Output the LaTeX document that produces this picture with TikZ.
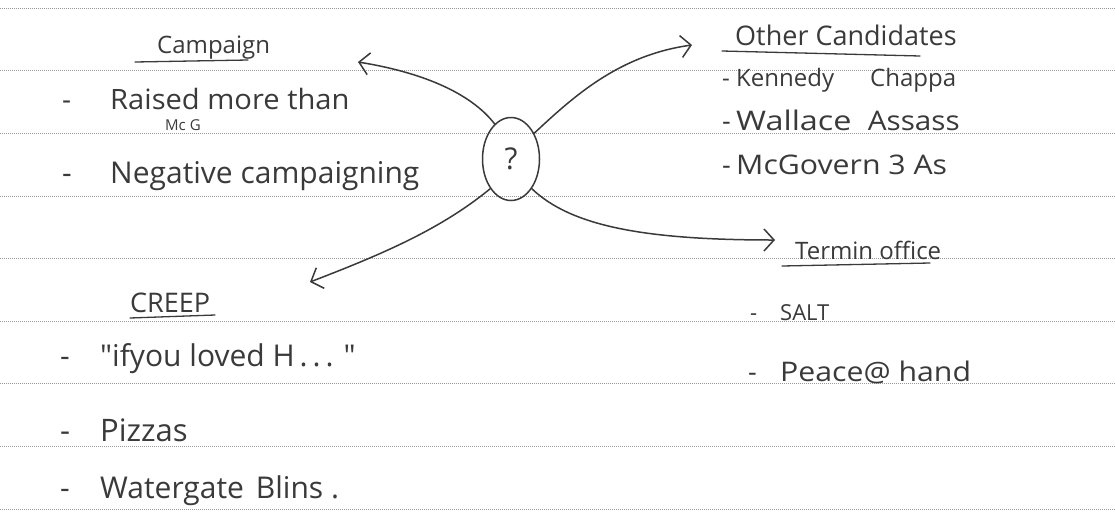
\documentclass[tikz,border=0pt]{standalone}
\usepackage{fontspec}
\setmainfont{Open Sans}
\newfontfamily\plainq[Ligatures=ResetAll]{Open Sans}
\usepackage{graphicx}
\usetikzlibrary{shapes.geometric,arrows.meta}
\newcommand\fs[1]{\fontsize{#1}{#1}\selectfont}
\newcommand\hs[2]{\scalebox{#1}[1]{#2}}
\definecolor{ink}{HTML}{3A3A3A}
\definecolor{rule}{HTML}{9A9A9A}
\tikzset{
  ruling/.style={rule, line width=0.7pt, dash pattern=on 0.7pt off 1.3pt},
  txt/.style={anchor=base west, inner sep=0pt, text=ink},
  uline/.style={ink, line width=1.3pt, line cap=round},
  branch/.style={ink, line width=1.5pt, line cap=round, -{Straight Barb[length=10pt,width=22pt,line width=1.5pt]}},
  hub/.style={draw=ink, line width=1.5pt, ellipse, minimum width=57pt, minimum height=83pt, inner sep=0pt}
}
\begin{document}
\begin{tikzpicture}[x=1pt,y=-1pt]
\useasboundingbox (0,0) rectangle (1115,512);
\fill[white] (0,0) rectangle (1115,512);
% ruled lines
\foreach \yy in {8,70,133,196,258,321,383,446,509}
  \draw[ruling] (0,\yy) -- (1115,\yy);
% hub
\node[hub] (q) at (511,159) {\fs{30}\color{ink}?};
% Campaign
\node[txt] (camp) at (157,53) {\fs{24}Campaign};
\coordinate (campU1) at (135,62);
\coordinate (campU2) at (248,60);
\draw[uline] (campU1) -- (campU2);
\node[txt] (c1) at (62,109) {\fs{28}\makebox[48pt][l]{-}\hs{1.04}{Raised more than}};
\node[txt] (c1b) at (165,130) {\fs{15}Mc G};
\node[txt] (c2) at (62,183) {\fs{30}\makebox[48pt][l]{-}Negative campaigning};
% Other Candidates
\node[txt] (oc) at (735,45) {\fs{27}Other Candidates};
\coordinate (ocU1) at (722,51);
\coordinate (ocU2) at (920,56);
\draw[uline] (ocU1) -- (ocU2);
\node[txt] (o1) at (722,86) {\fs{24}\makebox[14pt][l]{-}Kennedy\hspace{1.5em}Chappa};
\node[txt] (o2) at (722,130) {\fs{27}\makebox[14pt][l]{-}\hs{1.2}{Wallace}\hspace{0.6em}\hs{1.1}{Assass}};
\node[txt] (o3) at (722,174) {\fs{27}\makebox[14pt][l]{-}\hs{1.12}{McGovern 3 As}};
% Term in office
\node[txt] (tio) at (795,259) {\fs{24}Termin office};
\coordinate (tU1) at (782,266);
\coordinate (tU2) at (930,263);
\draw[uline] (tU1) -- (tU2);
\node[txt] (t1) at (750,320) {\fs{22}\makebox[30pt][l]{-}SALT};
\node[txt] (t2) at (748,381) {\fs{27}\makebox[32pt][l]{-}\hs{1.12}{Peace@ hand}};
% CREEP
\node[txt] (cr) at (130,312) {\fs{27}CREEP};
\coordinate (crU1) at (130,318);
\coordinate (crU2) at (215,315);
\draw[uline] (crU1) -- (crU2);
\node[txt] (r1) at (60,366) {\fs{30}\makebox[40pt][l]{-}{\plainq"}ifyou loved H\,.\,.\,.\,\,{\plainq"}};
\node[txt] (r2) at (60,441) {\fs{31}\makebox[40pt][l]{-}Pizzas};
\node[txt] (r3) at (60,498) {\fs{30}\makebox[40pt][l]{-}Watergate\hspace{0.4em}Blins .};
% branches
\coordinate (tipC) at (358,62);
\coordinate (tipO) at (692,45);
\coordinate (tipR) at (310,282);
\coordinate (tipT) at (775,240);
\draw[branch] (q.115) .. controls (470,92) and (420,72) .. (tipC);
\draw[branch] (q.48) .. controls (575,95) and (620,55) .. (tipO);
\draw[branch] (q.235) .. controls (440,230) and (380,255) .. (tipR);
\draw[branch] (q.-55) .. controls (570,225) and (640,240) .. (tipT);
\end{tikzpicture}
\end{document}
